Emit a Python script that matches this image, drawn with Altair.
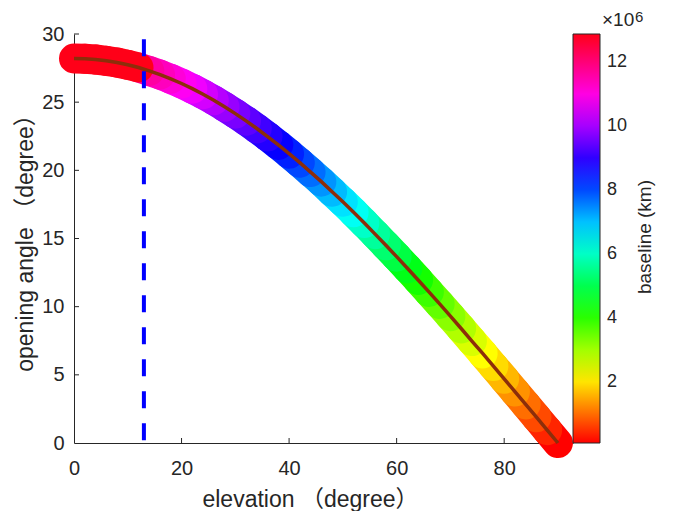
import altair as alt
import pandas as pd

# ---- data ----
elevation = [0, 2, 4, 6, 8, 10, 12, 14, 16, 18, 20, 22, 24, 26, 28, 30, 32, 34, 36, 38,
             40, 42, 44, 46, 48, 50, 52, 54, 56, 58, 60, 62, 64, 66, 68, 70, 72, 74, 76, 78,
             80, 82, 84, 86, 88, 90]
opening_angle = [28.2, 28.18, 28.13, 28.03, 27.91, 27.74, 27.54, 27.29, 27.02, 26.71,
                 26.37, 25.99, 25.58, 25.14, 24.66, 24.16, 23.63, 23.07, 22.48, 21.86,
                 21.22, 20.56, 19.87, 19.17, 18.43, 17.69, 16.92, 16.13, 15.32, 14.50,
                 13.67, 12.82, 11.96, 11.08, 10.20, 9.30, 8.40, 7.48, 6.57, 5.64,
                 4.71, 3.77, 2.83, 1.89, 0.94, 0.0]
baseline_km = [12.9e6, 12.9e6, 12.9e6, 12.9e6, 12.9e6, 12.9e6, 12.9e6,
               11.6e6, 11.35e6, 11.1e6, 10.85e6, 10.62e6, 10.38e6, 10.13e6, 9.88e6, 9.63e6,
               9.39e6, 9.14e6, 8.9e6, 8.65e6, 8.34e6, 8.02e6, 7.7e6, 7.37e6, 7.05e6, 6.72e6,
               6.39e6, 6.02e6, 5.65e6, 5.28e6, 4.91e6, 4.54e6, 4.18e6, 3.85e6, 3.52e6, 3.2e6,
               2.87e6, 2.54e6, 2.22e6, 1.92e6, 1.62e6, 1.31e6, 1.01e6, 0.71e6, 0.4e6, 0.1e6]
threshold_elevation = [13.0]
dash_bottom = 0.2
dash_top = 29.8

x_tick_values = [0, 20, 40, 60, 80]
y_tick_values = [0, 5, 10, 15, 20, 25, 30]
cbar_tick_values = [2e6, 4e6, 6e6, 8e6, 10e6, 12e6]

# colour map (hsv-like) stops over the colour-bar range
cmap_domain = [0.09e6, 2.22e6, 4.35e6, 6.48e6, 8.61e6, 10.74e6, 12.875e6]
cmap_range = ["#ff0000", "#ffff00", "#00ff00", "#00ffff", "#0000ff", "#ff00ff", "#ff0018"]

assert len(elevation) == len(opening_angle) == len(baseline_km)

FONT = "Liberation Sans, Arial, Noto Sans CJK SC, sans-serif"
INK = "#262626"
W, H = 499, 409
MARKER_D = 30  # marker diameter in px

df = pd.DataFrame({"elevation": elevation, "opening_angle": opening_angle,
                   "baseline_km": baseline_km})

# consecutive pairs of the points: round-capped thick segments = circular markers + fill
seg = pd.DataFrame({
    "elevation": elevation[:-1], "opening_angle": opening_angle[:-1],
    "elevation_end": elevation[1:], "opening_angle_end": opening_angle[1:],
    "baseline_km": baseline_km[1:],
})

x_scale = alt.Scale(domain=[0, 92.8], nice=False, zero=False)
y_scale = alt.Scale(domain=[0, 30], nice=False, zero=False)

x_enc = alt.X("elevation:Q", scale=x_scale,
              axis=alt.Axis(values=x_tick_values, title="elevation （degree）", grid=False,
                            ticks=False, tickSize=0, labelPadding=15, labelFontSize=20,
                            labelFont=FONT, labelColor=INK, titleFont=FONT, titleFontSize=23,
                            titleFontWeight="normal", titleColor=INK, titleX=236, titleY=63,
                            titleBaseline="alphabetic", titleAlign="center",
                            domainColor=INK, domainWidth=1, labelFlush=False))
y_enc = alt.Y("opening_angle:Q", scale=y_scale,
              axis=alt.Axis(values=y_tick_values, title="opening angle （degree）", grid=False,
                            ticks=False, tickSize=0, labelPadding=10, labelFontSize=20,
                            labelFont=FONT, labelColor=INK, titleFont=FONT, titleFontSize=23,
                            titleFontWeight="normal", titleColor=INK, titleAngle=270,
                            titleX=-49, titleY=203, titleBaseline="middle", titleAlign="center",
                            domainColor=INK, domainWidth=1, labelFlush=False))

color_legend = alt.Legend(type="gradient", orient="none", legendX=W, legendY=0,
                          direction="vertical", gradientLength=H, gradientThickness=27,
                          gradientStrokeColor=INK, gradientStrokeWidth=1,
                          values=cbar_tick_values,
                          labelExpr="format(datum.value / 1000000, 'd')",
                          labelFontSize=18, labelFont=FONT, labelColor=INK,
                          labelOffset=7, labelOverlap=False, title=None, padding=0)

band = alt.Chart(seg).mark_rule(strokeWidth=MARKER_D, strokeCap="round").encode(
    x=x_enc, y=y_enc,
    x2="elevation_end:Q", y2="opening_angle_end:Q",
    color=alt.Color("baseline_km:Q",
                    scale=alt.Scale(domain=cmap_domain, range=cmap_range, clamp=True,
                                    interpolate="rgb"),
                    legend=color_legend),
    order=alt.Order("elevation:Q", sort="descending"),
)

line = alt.Chart(df).mark_line(color="#8c2e0a", strokeWidth=3.5).encode(
    x="elevation:Q", y="opening_angle:Q", order="elevation:Q")

dash_df = pd.DataFrame({"elevation": threshold_elevation})
dash = alt.Chart(dash_df).mark_rule(color="#0000ff", strokeWidth=4, strokeDash=[17, 15]).encode(
    x="elevation:Q", y=alt.datum(dash_bottom), y2=alt.datum(dash_top))

xt = alt.Chart(pd.DataFrame({"elevation": x_tick_values[1:]})).mark_rule(
    color=INK, strokeWidth=1).encode(x="elevation:Q", y=alt.value(H), y2=alt.value(H - 5))
yt = alt.Chart(pd.DataFrame({"opening_angle": y_tick_values[1:]})).mark_rule(
    color=INK, strokeWidth=1).encode(y="opening_angle:Q", x=alt.value(0), x2=alt.value(5))

one = pd.DataFrame({"k": [0]})
cb_title = alt.Chart(one).mark_text(text="baseline (km)", angle=270, align="center",
                                    baseline="middle", fontSize=19, font=FONT, color=INK).encode(
    x=alt.value(571), y=alt.value(203))
exp_base = alt.Chart(one).mark_text(text="×10", align="left", baseline="alphabetic",
                                    fontSize=19, font=FONT, color=INK).encode(
    x=alt.value(528), y=alt.value(-8))
exp_pow = alt.Chart(one).mark_text(text="6", align="left", baseline="alphabetic",
                                   fontSize=15, font=FONT, color=INK).encode(
    x=alt.value(561), y=alt.value(-12))

chart = alt.layer(band, line, dash, xt, yt, cb_title, exp_base, exp_pow).properties(
    width=W, height=H,
    padding={"left": 66, "top": 26, "right": 95, "bottom": 68},
    autosize=alt.AutoSizeParams(type="none"),
    background="white",
).configure_view(stroke=None)

chart.save("out.html", embed_options={"renderer": "svg", "actions": False})
